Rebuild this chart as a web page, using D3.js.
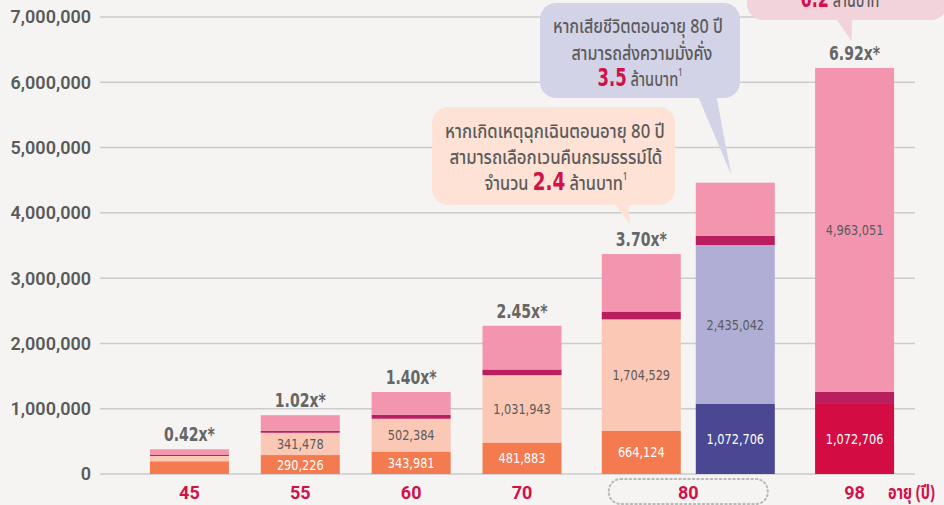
<!DOCTYPE html>
<html><head><meta charset="utf-8">
<script src="https://cdn.jsdelivr.net/npm/d3@7"></script>
<style>
html,body{margin:0;padding:0;background:#f5f4f2;}
svg{display:block;}
</style></head><body>
<svg id="chart" width="944" height="505"></svg>
<script>
// ---------- DATA ----------
const barIds     = ["45","55","60","70","80a","80b","98"];
const barGroups  = ["45","55","60","70","80","80","98"];
const groups     = ["45","55","60","70","80","98"];
const orangeVals   = [195000, 290226, 343981, 481883, 664124, 0, 0];
const peachVals    = [81000, 341478, 502384, 1031943, 1704529, 0, 0];
const navyVals     = [0, 0, 0, 0, 0, 1072706, 0];
const lavenderVals = [0, 0, 0, 0, 0, 2435042, 0];
const crimsonVals  = [0, 0, 0, 0, 0, 0, 1072706];
const darkVals     = [15000, 30000, 60000, 87000, 120000, 138000, 184000];
const pinkVals     = [87000, 239000, 350000, 670000, 880000, 816000, 4963051];
const pinkLabelled = [false, false, false, false, false, false, true];
const multipliers  = ["0.42x*","1.02x*","1.40x*","2.45x*","3.70x*",null,"6.92x*"];
const yTicks = [0,1000000,2000000,3000000,4000000,5000000,6000000,7000000];
const xAxisUnit = "อายุ (ปี)";

// ---------- STYLE ----------
const W = 944, H = 505;
const numFont = "'Liberation Sans Narrow','DejaVu Sans Condensed','Roboto Condensed',sans-serif";
const axisFont = "Roboto,'Noto Sans',sans-serif";
const thaiFont = "'Noto Sans Thai','Noto Sans Thai UI','Loma','Garuda','Noto Sans',sans-serif";
const gray = "#5b5b5b";
const crimsonTxt = "#d3104a";

const series = [
  {key:"orange",   vals:orangeVals,   color:"#f47a4f", label:"#ffffff", show:(v,i)=>v>=250000},
  {key:"peach",    vals:peachVals,    color:"#fbc8b5", label:gray,      show:(v,i)=>v>=250000},
  {key:"navy",     vals:navyVals,     color:"#4a4892", label:"#ffffff", show:(v,i)=>v>0},
  {key:"lavender", vals:lavenderVals, color:"#b0aed5", label:gray,      show:(v,i)=>v>0},
  {key:"crimson",  vals:crimsonVals,  color:"#d30d44", label:"#ffffff", show:(v,i)=>v>0},
  {key:"dark",     vals:darkVals,     color:"#bb1e5f", label:null,      show:()=>false},
  {key:"pink",     vals:pinkVals,     color:"#f395ae", label:gray,      show:(v,i)=>pinkLabelled[i]}
];

const svg = d3.select("#chart");
svg.append("rect").attr("width",W).attr("height",H).attr("fill","#f5f4f2");

// ---------- SCALES ----------
const y = d3.scaleLinear().domain([0, 7000000]).range([474, 17]);
const counts = d3.rollup(barGroups, v => v.length, d => d);
let acc = 0; const groupStart = new Map();
groups.forEach(g => { groupStart.set(g, acc); acc += counts.get(g); });
const xUnit = d3.scaleLinear().domain([0, acc]).range([134, 910]);
const barW = 79, gap = 15;
const groupCenter = g => xUnit(groupStart.get(g) + counts.get(g)/2);
const barX = {}; // left x per bar
groups.forEach(g => {
  const ids = barIds.filter((id,i)=>barGroups[i]===g);
  const n = ids.length, c = groupCenter(g);
  const half = (n*barW + (n-1)*gap)/2;
  ids.forEach((id,k) => barX[id] = c - half + k*(barW+gap));
});

// ---------- GRID ----------
svg.append("g").selectAll("line").data(yTicks).join("line")
  .attr("x1",100).attr("x2",915)
  .attr("y1",d=>y(d)).attr("y2",d=>y(d))
  .attr("stroke","#cbcbcb").attr("stroke-width",1.5);
svg.append("g").selectAll("text").data(yTicks).join("text")
  .attr("x",91).attr("y",d=>y(d)).attr("dy","0.36em")
  .attr("text-anchor","end")
  .style("font-family",axisFont).style("font-size","18px").style("font-weight",600)
  .attr("fill","#5a5a5a")
  .text(d=>d3.format(",")(d));

// ---------- BARS ----------
const stackData = barIds.map((id,i)=>{ const o={id}; series.forEach(s=>o[s.key]=s.vals[i]); return o; });
const stack = d3.stack().keys(series.map(s=>s.key))(stackData);
const barsG = svg.append("g");
stack.forEach((layer, li) => {
  const s = series[li];
  barsG.append("g").selectAll("rect").data(layer.filter(d=>d[1]-d[0]>0)).join("rect")
    .attr("x", d=>barX[d.data.id]).attr("width", barW)
    .attr("y", d=>y(d[1])).attr("height", d=>y(d[0])-y(d[1]))
    .attr("fill", s.color);
});
const labG = svg.append("g");
stack.forEach((layer, li) => {
  const s = series[li];
  const items = layer.map((d,i)=>({d,i})).filter(o => s.show(o.d[1]-o.d[0], o.i));
  labG.append("g").selectAll("text").data(items).join("text")
    .attr("transform", o=>`translate(${barX[o.d.data.id]+barW/2},${(y(o.d[0])+y(o.d[1]))/2}) scale(0.9,1)`)
    .attr("dy","0.36em")
    .attr("text-anchor","middle")
    .style("font-family",numFont).style("font-size","14px")
    .attr("fill", s.label)
    .text(o=>d3.format(",")(o.d[1]-o.d[0]));
});
// multipliers
const totals = barIds.map((id,i)=>d3.sum(series, s=>s.vals[i]));
svg.append("g").selectAll("text").data(barIds.map((id,i)=>({id, m:multipliers[i], t:totals[i]})).filter(d=>d.m))
  .join("text")
  .attr("transform", d=>`translate(${barX[d.id]+barW/2},${y(d.t)-8}) scale(0.78,1)`)
  .attr("text-anchor","middle")
  .style("font-family",numFont).style("font-size","20px").style("font-weight",700)
  .attr("fill","#666")
  .text(d=>d.m);

// ---------- X AXIS ----------
svg.append("g").selectAll("text").data(groups).join("text")
  .attr("x", g=>groupCenter(g)).attr("y", 499)
  .attr("text-anchor","middle")
  .style("font-family",axisFont).style("font-size","18px").style("font-weight",700)
  .attr("fill",crimsonTxt).text(g=>g);
// dotted frame around group "80"
{
  const ids = barIds.filter((id,i)=>barGroups[i]==="80");
  const x0 = barX[ids[0]]+7, x1 = barX[ids[ids.length-1]]+barW-7;
  svg.append("rect").attr("x",x0).attr("y",479).attr("width",x1-x0).attr("height",25).attr("rx",12)
    .attr("fill","none").attr("stroke","#b9b9b9").attr("stroke-width",2)
    .attr("stroke-dasharray","1.5,3").attr("stroke-linecap","round");
}

// ---------- fitted text helper ----------
function fitText(parent, cx, baseline, targetW, parts, anchor) {
  const g = parent.append("g");
  const t = g.append("text").attr("x",0).attr("y",0);
  parts.forEach(p => {
    const ts = t.append("tspan").text(p.t)
      .style("font-family", p.font || thaiFont)
      .style("font-size", (p.size||20)+"px")
      .style("font-weight", p.weight||500)
      .attr("fill", p.color||gray);
    if (p.dy) ts.attr("dy", p.dy);
  });
  const w = t.node().getComputedTextLength();
  const s = targetW / w;
  const left = anchor==="start" ? cx : cx - targetW/2;
  g.attr("transform", `translate(${left},${baseline}) scale(${s},1)`);
  return g;
}

// ---------- CALLOUTS ----------
function callout(fill, box, tail) {
  const g = svg.append("g");
  g.append("path").attr("d", d3.line()(tail)).attr("fill", fill);
  g.append("rect").attr("x",box[0]).attr("y",box[1]).attr("width",box[2]).attr("height",box[3]).attr("rx",16).attr("fill",fill);
  return g;
}
const topOf = id => y(totals[barIds.indexOf(id)]);
const cxOf = id => barX[id] + barW/2;

// peach callout (80 surrender)
const c1 = callout("#fde2d5", [432,107,243,98], [[612,200],[628,200],[cxOf("80a")-11, topOf("80a")-29]]);
fitText(c1, 555, 138, 220, [{t:"หากเกิดเหตุฉุกเฉินตอนอายุ 80 ปี"}]);
fitText(c1, 556, 164, 213, [{t:"สามารถเลือกเวนคืนกรมธรรม์ได้"}]);
fitText(c1, 556, 190, 143, [{t:"จำนวน "},{t:"2.4",color:crimsonTxt,weight:700,size:25,font:numFont},{t:" ล้านบาท"},{t:"1",size:10,dy:-10}]);

// lavender callout (death at 80)
const c2 = callout("#d3d3e8", [540,3,200,95], [[697,94],[716,94],[cxOf("80b")-4, topOf("80b")-8]]);
fitText(c2, 638, 33, 170, [{t:"หากเสียชีวิตตอนอายุ 80 ปี"}]);
fitText(c2, 642, 60, 141, [{t:"สามารถส่งความมั่งคั่ง"}]);
fitText(c2, 640, 86, 85, [{t:"3.5",color:crimsonTxt,weight:700,size:25,font:numFont},{t:" ล้านบาท"},{t:"1",size:10,dy:-10}]);

// pink callout (98)
const c3 = callout("#f2d2db", [747,-40,200,60], [[835,17],[852,17],[cxOf("98")-3, topOf("98")-27]]);
fitText(c3, 842, 7, 83, [{t:"6.2",color:crimsonTxt,weight:700,size:25,font:numFont},{t:" ล้านบาท"},{t:"1",size:10,dy:-10}]);

// axis unit label
fitText(svg, 888, 499, 47, [{t:xAxisUnit,color:crimsonTxt,weight:700,size:19}], "start");
</script>
</body></html>
